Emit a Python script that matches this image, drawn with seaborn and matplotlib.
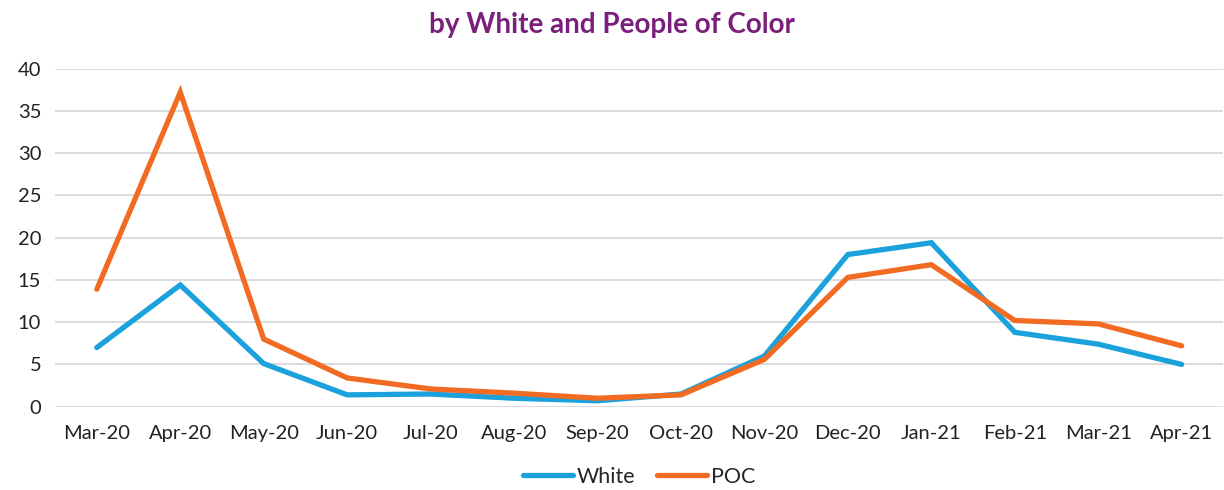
import matplotlib
matplotlib.use("Agg")
import matplotlib.pyplot as plt
import seaborn as sns
import pandas as pd

months = ["Mar-20", "Apr-20", "May-20", "Jun-20", "Jul-20", "Aug-20", "Sep-20",
          "Oct-20", "Nov-20", "Dec-20", "Jan-21", "Feb-21", "Mar-21", "Apr-21"]
white = [7.0, 14.4, 5.1, 1.4, 1.5, 1.0, 0.7, 1.5, 6.0, 18.0, 19.4, 8.8, 7.4, 5.0]
poc = [13.9, 37.2, 8.0, 3.4, 2.1, 1.6, 1.0, 1.4, 5.6, 15.3, 16.8, 10.2, 9.8, 7.2]
y_ticks = [0, 5, 10, 15, 20, 25, 30, 35, 40]

df = pd.DataFrame({"Month": months * 2,
                   "Value": white + poc,
                   "Group": ["White"] * len(months) + ["POC"] * len(months)})
df["x"] = list(range(len(months))) * 2

sns.set_style("white")
plt.rcParams["font.family"] = ["Lato", "DejaVu Sans"]

fig, ax = plt.subplots(figsize=(12.24, 4.9), dpi=100)
fig.subplots_adjust(left=0.045, right=0.9995, top=0.86, bottom=0.17)

sns.lineplot(data=df, x="x", y="Value", hue="Group",
             palette={"White": "#1BA1DB", "POC": "#F26B22"},
             linewidth=3.8, ax=ax, sort=False, legend=True)
for ln in ax.get_lines():
    ln.set_solid_capstyle("round")
    ln.set_solid_joinstyle("miter")

ax.set_xlim(-0.5, len(months) - 0.5)
ax.set_ylim(0, 40)
ax.set_yticks(y_ticks)
ax.set_xticks(range(len(months)))
ax.set_xticklabels(months)
ax.tick_params(axis="both", labelsize=14.5, colors="#222222", length=0)
ax.tick_params(axis="x", pad=13)
ax.tick_params(axis="y", pad=10)
ax.set_xlabel("")
ax.set_ylabel("")
ax.yaxis.grid(True, color="#d9d9d9", linewidth=1.3)
ax.set_axisbelow(True)
for s in ax.spines.values():
    s.set_visible(False)

fig.suptitle("by White and People of Color", x=0.5, y=0.975,
             fontsize=20, fontweight="bold", color="#7B1F7C")

handles, labels = ax.get_legend_handles_labels()
for h in handles:
    h.set_linewidth(3.8)
    h.set_solid_capstyle("round")
ax.legend(handles, labels, loc="upper center", bbox_to_anchor=(0.5, -0.14),
          ncol=2, frameon=False, fontsize=15.5, handlelength=2.3,
          handletextpad=0.2, columnspacing=1.0, borderaxespad=0.2)

fig.savefig("out.png", dpi=100, facecolor="white")
